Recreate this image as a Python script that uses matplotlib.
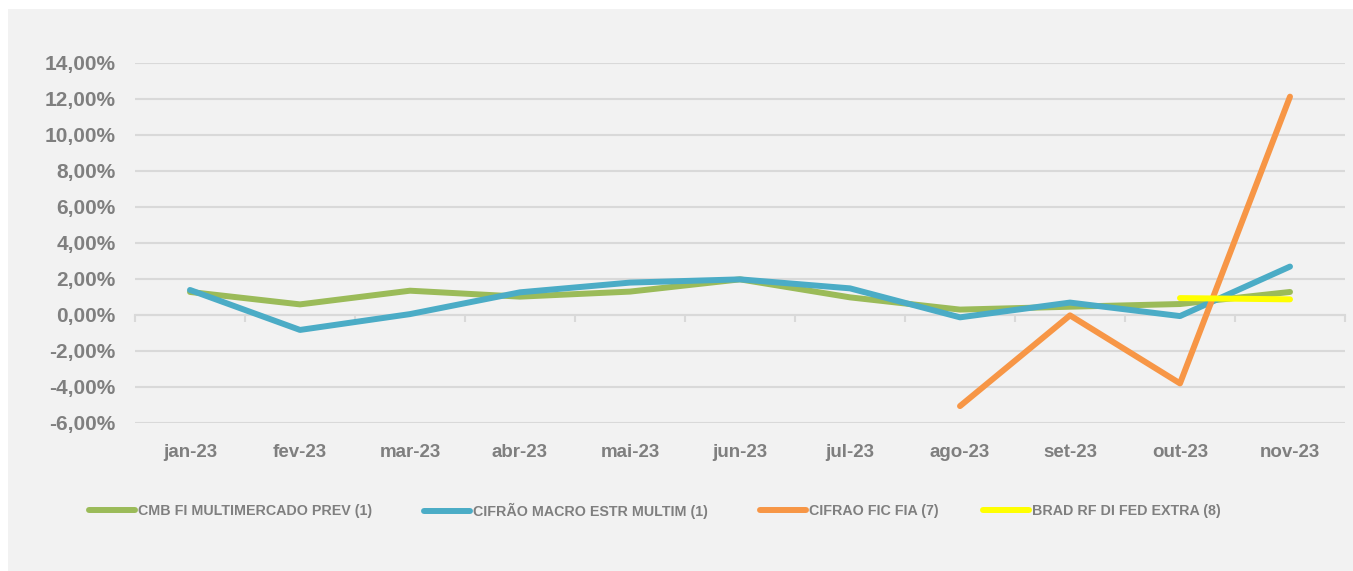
import numpy as np
import matplotlib
matplotlib.use('Agg')
import matplotlib.pyplot as plt
from matplotlib.lines import Line2D
from matplotlib.ticker import FuncFormatter

months = ['jan-23', 'fev-23', 'mar-23', 'abr-23', 'mai-23', 'jun-23',
          'jul-23', 'ago-23', 'set-23', 'out-23', 'nov-23']
series_names = ['CMB FI MULTIMERCADO PREV (1)', 'CIFRÃO MACRO ESTR MULTIM (1)',
                'CIFRAO FIC FIA (7)', 'BRAD RF DI FED EXTRA (8)']
cmb = [1.28, 0.59, 1.35, 1.02, 1.30, 1.98, 0.98, 0.30, 0.46, 0.61, 1.28]
cifrao_macro = [1.39, -0.83, 0.05, 1.26, 1.80, 1.98, 1.48, -0.13, 0.69, -0.06, 2.69]
cifrao_fia = [np.nan] * 7 + [-5.06, -0.02, -3.80, 12.13]
brad = [np.nan] * 9 + [0.94, 0.87]

colors = ['#9BBB59', '#4BACC6', '#F79646', '#FFFF00']
grey = '#7f7f7f'
grid = '#d9d9d9'

fig = plt.figure(figsize=(13.53, 5.71), dpi=100)
fig.patch.set_facecolor('white')
# grey chart panel
fig.add_artist(plt.Rectangle((8 / 1353, 0), 1, 1 - 9 / 571, transform=fig.transFigure,
                             facecolor='#f2f2f2', edgecolor='none', zorder=0))

ax = fig.add_axes([135 / 1353, 1 - 423 / 571, 1210 / 1353, 360 / 571])
ax.patch.set_alpha(0)

x = np.arange(len(months))
for vals, c in zip([cmb, cifrao_macro, cifrao_fia, brad], colors):
    ax.plot(x, vals, color=c, lw=4.3, solid_capstyle='round', zorder=3)

ax.set_xlim(-0.5, len(months) - 0.5)
ax.set_ylim(-6, 14)
ax.set_yticks(np.arange(-6, 15, 2))
ax.yaxis.set_major_formatter(FuncFormatter(lambda v, p: f'{v:.2f}%'.replace('.', ',')))
ax.grid(axis='y', color=grid, lw=1.5)
ax.set_axisbelow(True)
for s in ax.spines.values():
    s.set_visible(False)

ax.set_xticks(x)
ax.set_xticklabels(months)
ax.tick_params(axis='x', length=0, pad=15, labelsize=13.5, labelcolor=grey)
ax.tick_params(axis='y', length=0, pad=14, labelsize=15, labelcolor=grey)
for lab in ax.get_xticklabels() + ax.get_yticklabels():
    lab.set_fontfamily('Liberation Sans')
    lab.set_fontweight('bold')

# category axis crossing at zero with boundary ticks
sec = ax.secondary_xaxis(6 / 20)
sec.set_xticks(np.arange(-0.5, len(months), 1))
sec.set_xticklabels([])
sec.tick_params(axis='x', direction='out', length=5, width=1.5, color=grid)
sec.spines['bottom'].set_color(grid)
sec.spines['bottom'].set_linewidth(1.5)

# legend entries placed like the original
leg_x = [89, 424, 760, 983]
for name, c, lx in zip(series_names, colors, leg_x):
    h = Line2D([], [], color=c, lw=4.3, solid_capstyle='round')
    lg = fig.legend([h], [name], loc='center left', bbox_to_anchor=(lx / 1353, 1 - 511 / 571),
                    frameon=False, borderpad=0, borderaxespad=0, handlelength=3.2,
                    handletextpad=0.25,
                    prop={'family': 'Liberation Sans', 'weight': 'bold', 'size': 10.3})
    for t in lg.get_texts():
        t.set_color(grey)

fig.savefig('out.png', dpi=100, facecolor=fig.get_facecolor())
